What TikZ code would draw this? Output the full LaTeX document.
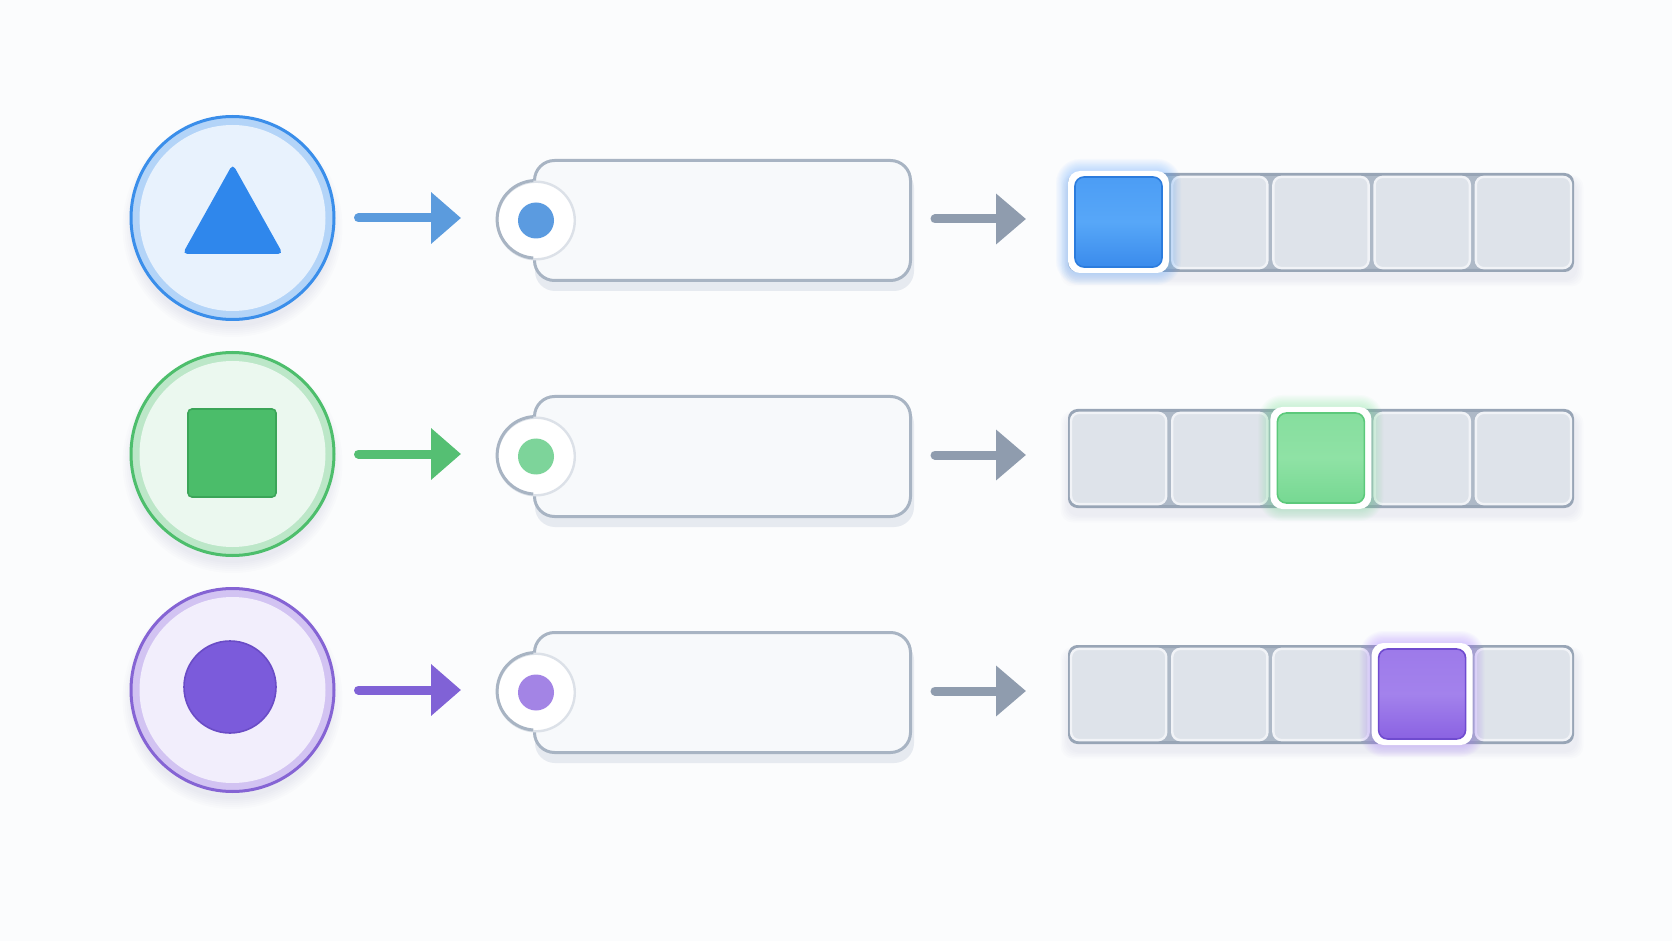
\documentclass[tikz,border=0pt]{standalone}
\usetikzlibrary{arrows.meta,calc}
\definecolor{bg}{HTML}{FBFCFD}
% blue row
\definecolor{blu-s}{HTML}{3A8EEA}
\definecolor{blu-r}{HTML}{B3D4F8}
\definecolor{blu-f}{HTML}{E8F2FD}
\definecolor{blu-a}{HTML}{5B9BDD}
\definecolor{blu-d}{HTML}{5B9BE0}
\definecolor{blu-t}{HTML}{4C9DF5}
\definecolor{blu-m}{HTML}{57A7F8}
\definecolor{blu-b}{HTML}{3A8BEC}
\definecolor{blu-e}{HTML}{2C7CDD}
\definecolor{blu-h}{HTML}{4FA0FF}
% green row
\definecolor{grn-s}{HTML}{4DBE6C}
\definecolor{grn-r}{HTML}{BCE7C8}
\definecolor{grn-f}{HTML}{EBF8EF}
\definecolor{grn-a}{HTML}{55BF73}
\definecolor{grn-d}{HTML}{7DD49A}
\definecolor{grn-t}{HTML}{86DE9E}
\definecolor{grn-m}{HTML}{8FE2A5}
\definecolor{grn-b}{HTML}{76D892}
\definecolor{grn-e}{HTML}{5CC97B}
\definecolor{grn-h}{HTML}{6FE08F}
% purple row
\definecolor{pur-s}{HTML}{8564D4}
\definecolor{pur-r}{HTML}{D2C3F2}
\definecolor{pur-f}{HTML}{F2EEFC}
\definecolor{pur-a}{HTML}{8062D6}
\definecolor{pur-d}{HTML}{A384E5}
\definecolor{pur-t}{HTML}{9D7AEA}
\definecolor{pur-m}{HTML}{A382EC}
\definecolor{pur-b}{HTML}{8A62E2}
\definecolor{pur-e}{HTML}{6F4BCF}
\definecolor{pur-h}{HTML}{A070FF}
% glyphs
\definecolor{triC}{HTML}{2F87EC}
\definecolor{sqC}{HTML}{4BBD6A}
\definecolor{sqE}{HTML}{3BA558}
\definecolor{dotC}{HTML}{7B5BDB}
\definecolor{dotE}{HTML}{6A4CC6}
% grays
\definecolor{garrow}{HTML}{8F9CAE}
\definecolor{tagst}{HTML}{A8B4C3}
\definecolor{tagin}{HTML}{DCE1E8}
\definecolor{tagf}{HTML}{F7F9FB}
\definecolor{tagsh}{HTML}{E6EAF0}
\definecolor{frst}{HTML}{98A5B6}
\definecolor{gap}{HTML}{AEB9C7}
\definecolor{cellf}{HTML}{DEE3EA}
\definecolor{cellin}{HTML}{F1F3F7}
\tikzset{
  bigcirc/.style={circle, minimum size=101.5pt, inner sep=0pt, line width=1.5pt},
  tagbox/.style={draw=tagst, fill=tagf, line width=1.5pt, rounded corners=10pt,
    minimum width=188pt, minimum height=60pt, inner sep=0pt},
  tagcirc/.style={circle, fill=white, draw=tagin, line width=1.2pt, minimum size=38.8pt, inner sep=0pt},
  framebox/.style={draw=frst, fill=gap, line width=1.5pt, rounded corners=4pt,
    minimum width=251.5pt, minimum height=48pt, inner sep=0pt},
  cellbox/.style={fill=cellf, draw=cellin, line width=1.2pt, rounded corners=4pt,
    minimum width=47.6pt, minimum height=45.6pt, inner sep=0pt},
  carrow/.style={line width=4.5pt, line cap=round, -{Triangle[length=15pt,width=25pt]},
    shorten <=11.5pt, shorten >=17.5pt},
  garrowst/.style={garrow, line width=4.5pt, line cap=round, -{Triangle[length=15pt,width=24.5pt]},
    shorten <=11.5pt, shorten >=21pt},
}
\begin{document}
\begin{tikzpicture}[x=0.5pt,y=-0.5pt]
\fill[bg] (0,0) rectangle (1672,941);
\useasboundingbox (0,0) rectangle (1672,941);

\foreach \r/\dy/\col/\hi in {1/0/blu/1,2/236/grn/3,3/472/pur/4}{
  % circle shadow
  \foreach \k in {1,...,6}
    \fill[black!60!blue, opacity=0.012] (232.5,{227+\dy}) circle[radius={(98+2*\k)*0.5pt}];
  \node[bigcirc, fill=\col-r, draw=\col-s] (c\r) at (232.5,{218+\dy}) {};
  \fill[\col-f] (c\r.center) circle[radius=46.5pt];

  % tag
  \fill[tagsh, rounded corners=10pt] (535,{168+\dy}) rectangle (914,{291+\dy});
  \node[tagbox] (t\r) at (722.5,{220.5+\dy}) {};
  \node[tagcirc] (tc\r) at (536,{220.5+\dy}) {};
  \draw[tagst, line width=1.5pt] (tc\r.94) arc[start angle=94, end angle=266, radius=19.4pt];
  \fill[\col-d] (tc\r.center) circle[radius=9pt];

  % cell strip
  \foreach \k in {1,...,5}
    \fill[black!50!blue, opacity=0.012, rounded corners=6pt]
      ({1068-\k*1.5},{180+\dy-\k}) rectangle ({1576+\k*1.5},{279+\dy+\k*1.5});
  \node[framebox] (f\r) at (1321,{222.5+\dy}) {};
  \foreach \k in {1,...,5}{
    \pgfmathsetmacro{\cx}{1068+(\k-0.5)*101.2}
    \node[cellbox] (f\r-\k) at (\cx,{222.5+\dy}) {};
  }
  % highlighted cell
  \pgfmathsetmacro{\xl}{1068+(\hi-1)*101.2}
  \foreach \g in {1,...,10}
    \fill[\col-h, opacity=0.035, rounded corners={6pt+\g*0.6pt}]
      ({\xl-\g*1.2},{171+\dy-\g*1.2}) rectangle ({\xl+101+\g*1.2},{273+\dy+\g*1.2});
  \fill[white, rounded corners=6pt] (\xl,{171+\dy}) rectangle ({\xl+101},{273+\dy});
  \shade[top color=\col-t, bottom color=\col-b, middle color=\col-m, draw=\col-e, line width=0.8pt,
    rounded corners=4.5pt] ({\xl+7},{177+\dy}) rectangle ({\xl+94},{267+\dy});

  % connectors
  \draw[carrow, \col-a] (c\r.east) -- (c\r.east -| tc\r.west);
  \draw[garrowst] ($(t\r.east)+(0,-1.5)$) -- ($(t\r.east -| f\r.west)+(0,-1.5)$);
}

% glyphs
\fill[triC, rounded corners=2.5pt] (232.7,164) -- (283,254) -- (182.5,254) -- cycle;
\filldraw[fill=sqC, draw=sqE, line width=0.8pt, rounded corners=2pt] (188,409) rectangle (276,497);
\filldraw[fill=dotC, draw=dotE, line width=0.8pt] (230,687) circle[radius=23pt];
\end{tikzpicture}
\end{document}
